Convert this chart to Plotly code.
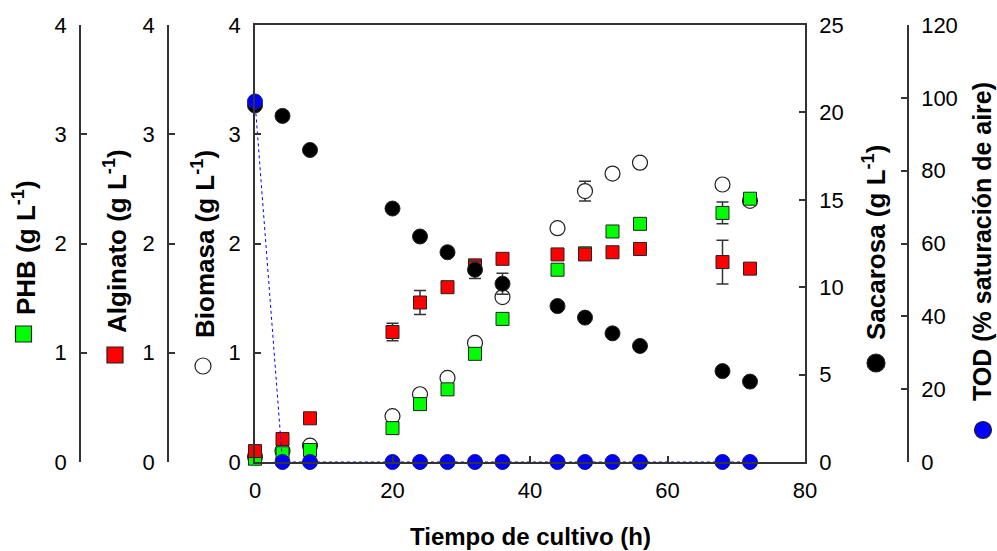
import plotly.graph_objects as go

# Sampling times (h)
tiempo = [0, 4, 8, 20, 24, 28, 32, 36, 44, 48, 52, 56, 68, 72]

# Biomass, alginate, PHB (g/L)
biomasa = [0.05, 0.10, 0.15, 0.42, 0.62, 0.77, 1.09, 1.51, 2.14, 2.48, 2.64, 2.74, 2.54, 2.39]
biomasa_err = [0, 0, 0, 0, 0, 0, 0, 0, 0, 0.09, 0, 0, 0, 0]
alginato = [0.10, 0.21, 0.40, 1.19, 1.46, 1.60, 1.80, 1.86, 1.90, 1.90, 1.92, 1.95, 1.83, 1.77]
alginato_err = [0, 0, 0, 0.08, 0.11, 0, 0, 0, 0, 0, 0, 0, 0.20, 0]
phb = [0.03, 0.08, 0.11, 0.31, 0.53, 0.665, 0.99, 1.31, 1.76, 1.91, 2.11, 2.18, 2.28, 2.41]
phb_err = [0, 0, 0, 0, 0, 0, 0, 0, 0, 0, 0, 0, 0.10, 0]

# Sucrose (g/L)
sacarosa = [20.4, 19.8, 17.85, 14.5, 12.9, 12.0, 11.0, 10.2, 8.92, 8.26, 7.36, 6.64, 5.2, 4.6]
sacarosa_err = [0, 0, 0, 0, 0, 0, 0.5, 0.6, 0, 0, 0, 0, 0, 0]

# Dissolved oxygen tension (% air saturation)
tod = [99, 0, 0, 0, 0, 0, 0, 0, 0, 0, 0, 0, 0, 0]

x_ticks = [0, 20, 40, 60, 80]

W, H = 997, 551
FONT = "Liberation Sans, Arial, sans-serif"
AX = "#333333"
EDGE = "#222222"


def px(x):
    return x / W


def py(y):
    return 1 - y / H


def err(vals):
    return dict(type="data", array=vals, visible=True, color=AX,
                thickness=1.5, width=6)


fig = go.Figure()

fig.add_trace(go.Scatter(
    x=tiempo, y=biomasa, yaxis="y", mode="markers", name="Biomasa",
    error_y=err(biomasa_err), cliponaxis=False,
    marker=dict(symbol="circle", size=15, color="white",
                line=dict(color=EDGE, width=1.2))))

fig.add_trace(go.Scatter(
    x=tiempo, y=sacarosa, yaxis="y4", mode="markers", name="Sacarosa",
    error_y=err(sacarosa_err), cliponaxis=False,
    marker=dict(symbol="circle", size=15, color="black",
                line=dict(color=EDGE, width=1))))

fig.add_trace(go.Scatter(
    x=tiempo, y=alginato, yaxis="y3", mode="markers", name="Alginato",
    error_y=err(alginato_err), cliponaxis=False,
    marker=dict(symbol="square", size=13, color="#ff0000",
                line=dict(color=EDGE, width=1))))

fig.add_trace(go.Scatter(
    x=tiempo, y=phb, yaxis="y2", mode="markers", name="PHB",
    error_y=err(phb_err), cliponaxis=False,
    marker=dict(symbol="square", size=13, color="#00ff00",
                line=dict(color=EDGE, width=1))))

fig.add_trace(go.Scatter(
    x=tiempo, y=tod, yaxis="y5", mode="lines+markers", name="TOD",
    cliponaxis=False,
    line=dict(color="#0000ff", width=1, dash="dot"),
    marker=dict(symbol="circle", size=15, color="#0000ff",
                line=dict(color="#1a1a6e", width=1))))

tickfont = dict(family=FONT, size=22, color="black")
dom_y = [py(462), py(25)]

common_y = dict(showline=True, linecolor=AX, linewidth=1.5, ticks="inside",
                ticklen=6, tickwidth=1.5, tickcolor=AX, showgrid=False,
                zeroline=False, tickfont=tickfont, ticklabelstandoff=8,
                automargin=False)

fig.update_layout(
    width=W, height=H,
    margin=dict(l=0, r=0, t=0, b=0, pad=0),
    paper_bgcolor="white", plot_bgcolor="white",
    showlegend=False,
    xaxis=dict(domain=[px(255), px(805)], range=[0, 80], tickvals=x_ticks,
               showline=True, mirror=True, linecolor=AX, linewidth=1.5,
               ticks="inside", ticklen=6, tickwidth=1.5, tickcolor=AX,
               showgrid=False, zeroline=False, tickfont=tickfont,
               ticklabelstandoff=8, automargin=False),
    yaxis=dict(domain=dom_y, range=[0, 4], dtick=1, **common_y),
    yaxis2=dict(overlaying="y", anchor="free", position=px(80), side="left",
                range=[0, 4], dtick=1, **common_y),
    yaxis3=dict(overlaying="y", anchor="free", position=px(168), side="left",
                range=[0, 4], dtick=1, **common_y),
    yaxis4=dict(overlaying="y", anchor="x", side="right",
                range=[0, 25], dtick=5, **common_y),
    yaxis5=dict(overlaying="y", anchor="free", position=px(908), side="right",
                range=[0, 120], dtick=20, **common_y),
)

titles = [
    (24, 248, 26, "<b>PHB (g L<sup>-1</sup>)</b>"),
    (116, 241, 26, "<b>Alginato (g L<sup>-1</sup>)</b>"),
    (203, 244, 26, "<b>Biomasa (g L<sup>-1</sup>)</b>"),
    (875, 243, 26, "<b>Sacarosa (g L<sup>-1</sup>)</b>"),
    (982, 242, 25, "<b>TOD (% saturación de aire)</b>"),
]
annotations = [dict(x=px(xc), y=py(yc), xref="paper", yref="paper",
                    text=t, textangle=-90, showarrow=False,
                    font=dict(family=FONT, size=fs, color="black"),
                    xanchor="center", yanchor="middle", borderpad=0)
               for xc, yc, fs, t in titles]
annotations.append(dict(x=px(530), y=py(536), xref="paper", yref="paper",
                        text="<b>Tiempo de cultivo (h)</b>", showarrow=False,
                        font=dict(family=FONT, size=24, color="black"),
                        xanchor="center", yanchor="middle"))
fig.update_layout(annotations=annotations)

# Key symbols placed beside each axis title
def sym(kind, xc, yc, r, fill):
    return dict(type=kind, xref="paper", yref="paper",
                x0=px(xc - r), x1=px(xc + r), y0=py(yc + r), y1=py(yc - r),
                fillcolor=fill, line=dict(color=EDGE, width=1.2))

fig.update_layout(shapes=[
    sym("rect", 23.5, 334, 8, "#00ff00"),
    sym("rect", 115, 355, 8, "#ff0000"),
    sym("circle", 203, 366, 8, "white"),
    sym("circle", 876, 363, 9, "black"),
    sym("circle", 983, 430, 8.5, "#0000ff"),
])

fig.write_html("out.html")
